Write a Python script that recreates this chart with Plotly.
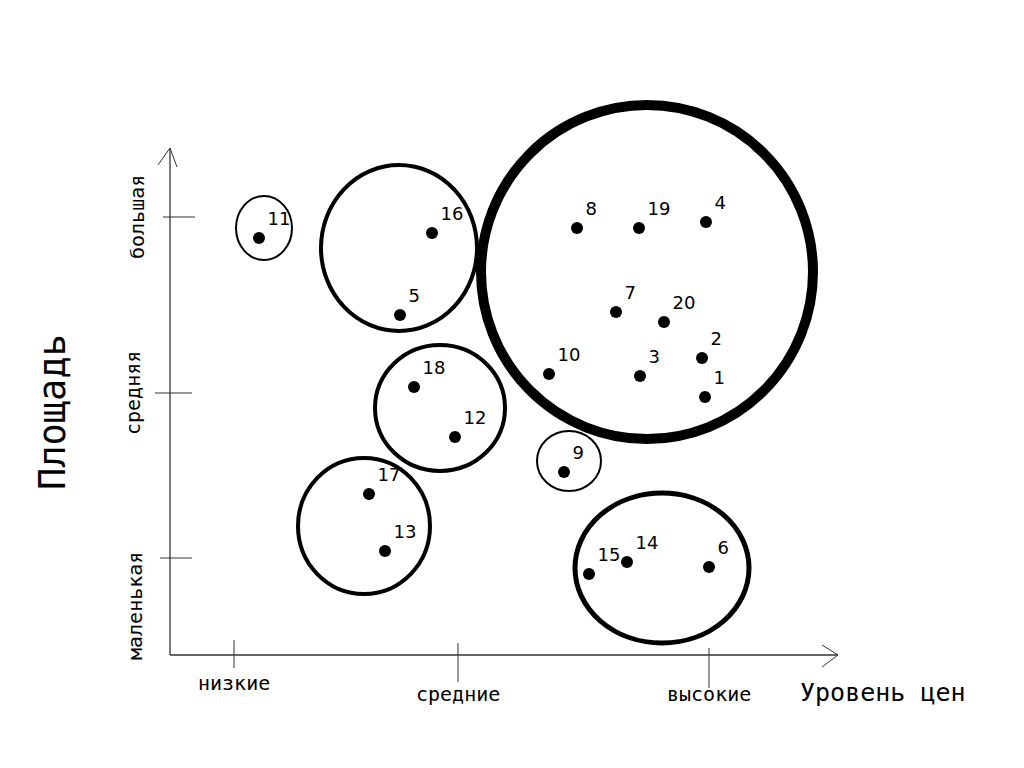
import plotly.graph_objects as go

# ---- data (chart units: origin at the axes' crossing) ----
point_ids = ["1", "2", "3", "4", "5", "6", "7", "8", "9", "10",
             "11", "12", "13", "14", "15", "16", "17", "18", "19", "20"]
price_x = [535, 532, 470, 536, 230, 539, 446, 407, 394, 379,
           89, 285, 215, 457, 419, 262, 199, 244, 469, 494]
area_y = [258, 297, 279, 433, 340, 88, 343, 427, 183, 281,
          417, 218, 104, 93, 81, 422, 161, 268, 427, 333]

# clusters: centre x, centre y, radius x, radius y, outline width
cluster_cx = [477, 94, 229, 270, 399, 194, 492]
cluster_cy = [383, 427, 407, 247, 194, 129, 87]
cluster_rx = [166, 28, 78, 65, 32, 66, 87]
cluster_ry = [167, 32, 83, 63, 30, 68, 75]
cluster_w = [10, 2, 4, 4, 2, 4, 5]

x_tick_vals = [64, 288, 539]
x_tick_text = ["низкие", "средние", "высокие"]
y_tick_vals = [438, 262, 97]
y_tick_text = ["большая", "средняя", "маленькая"]
x_title = "Уровень цен"
y_title = "Площадь"

X_END = 668
Y_END = 507

fig = go.Figure()

shapes = []
for cx, cy, rx, ry, w in zip(cluster_cx, cluster_cy, cluster_rx, cluster_ry, cluster_w):
    shapes.append(dict(type="circle", xref="x", yref="y",
                       x0=cx - rx, x1=cx + rx, y0=cy - ry, y1=cy + ry,
                       line=dict(color="black", width=w), layer="below"))
axis_line = dict(color="#333333", width=1.3)
shapes.append(dict(type="line", x0=0, y0=0, x1=X_END, y1=0, line=axis_line))
shapes.append(dict(type="line", x0=0, y0=0, x1=0, y1=Y_END, line=axis_line))
shapes.append(dict(type="path", path=f"M {X_END-16},10 L {X_END},0 L {X_END-16},-12",
                   line=dict(color="#333333", width=1)))
shapes.append(dict(type="path", path=f"M -12,{Y_END-17} L 0,{Y_END} L 7,{Y_END-19}",
                   line=dict(color="#333333", width=1)))
x_tick_half = [(15, -13), (12, -27), (7, -33)]
for v, (up, dn) in zip(x_tick_vals, x_tick_half):
    shapes.append(dict(type="line", x0=v, x1=v, y0=up, y1=dn, line=dict(color="#333333", width=1)))
y_tick_ext = [(-7, 25), (-15, 22), (-10, 22)]
for v, (l, r) in zip(y_tick_vals, y_tick_ext):
    shapes.append(dict(type="line", x0=l, x1=r, y0=v, y1=v, line=dict(color="#333333", width=1)))

fig.add_trace(go.Scatter(
    x=price_x, y=area_y, mode="markers+text", text=point_ids,
    textposition="top right",
    marker=dict(color="black", size=12),
    textfont=dict(family="DejaVu Sans", size=18, color="black"),
    hoverinfo="skip", showlegend=False, cliponaxis=False))

annotations = []
mono = "DejaVu Sans Mono"
x_label_dy = [-28, -39, -39]
for v, t, dy in zip(x_tick_vals, x_tick_text, x_label_dy):
    annotations.append(dict(x=v, y=dy, text=t, showarrow=False, xanchor="center", yanchor="middle",
                            font=dict(family=mono, size=20, color="black")))
y_label_dx = [-33, -37, -35]
y_label_dy = [0, 0, -48]
for v, t, dx, dy in zip(y_tick_vals, y_tick_text, y_label_dx, y_label_dy):
    annotations.append(dict(x=dx, y=v + dy, text=t, showarrow=False, textangle=-90,
                            xanchor="center", yanchor="middle",
                            font=dict(family=mono, size=20, color="black")))
annotations.append(dict(x=713, y=-37, text=x_title, showarrow=False, xanchor="center", yanchor="middle",
                        font=dict(family=mono, size=25, color="black")))
annotations.append(dict(x=-118, y=243, text=y_title, showarrow=False, textangle=-90,
                        xanchor="center", yanchor="middle",
                        font=dict(family=mono, size=37, color="black")))

fig.update_layout(
    width=1024, height=768, autosize=False,
    margin=dict(l=0, r=0, t=0, b=0),
    paper_bgcolor="white", plot_bgcolor="white",
    xaxis=dict(range=[-170, 854], visible=False, fixedrange=True),
    yaxis=dict(range=[-113, 655], visible=False, fixedrange=True),
    shapes=shapes, annotations=annotations,
)

fig.write_html("out.html")
